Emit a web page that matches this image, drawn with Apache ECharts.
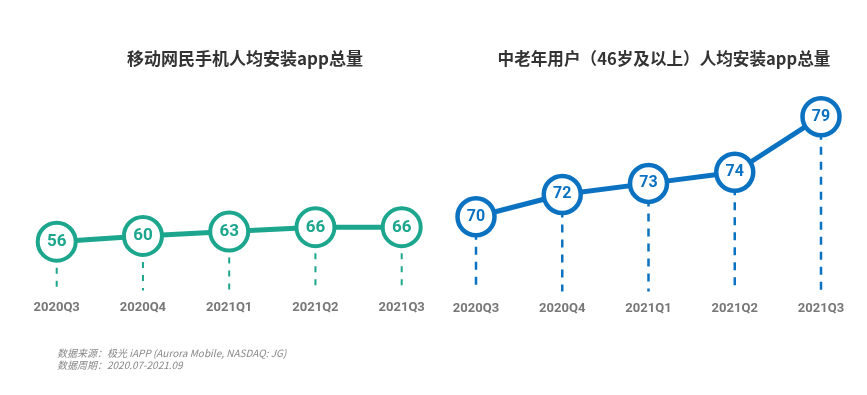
<!DOCTYPE html>
<html>
<head>
<meta charset="utf-8">
<script src="https://cdn.jsdelivr.net/npm/echarts@6/dist/echarts.min.js"></script>
<style>
html,body{margin:0;padding:0;background:#fff;}
#chart{width:867px;height:395px;}
</style>
</head>
<body>
<div id="chart"></div>
<script>
const categories = ['2020Q3', '2020Q4', '2021Q1', '2021Q2', '2021Q3'];
const allUsersValues = [56, 60, 63, 66, 66];
const seniorUsersValues = [70, 72, 73, 74, 79];
const leftTitle = '移动网民手机人均安装app总量';
const rightTitle = '中老年用户（46岁及以上）人均安装app总量';
const sourceLines = ['数据来源：极光 iAPP (Aurora Mobile, NASDAQ: JG)', '数据周期：2020.07-2021.09'];

const TEAL = '#1ba68d';
const BLUE = '#0a72c1';

function dashSeries(xi, yi, data, color, width, dash) {
  return {
    type: 'custom',
    xAxisIndex: xi, yAxisIndex: yi, z: 1, silent: true,
    data: data.map((v, i) => [i, v]),
    renderItem: function (params, api) {
      const p = api.coord([api.value(0), api.value(1)]);
      const bottom = params.coordSys.y + params.coordSys.height - 3;
      return {
        type: 'line',
        shape: { x1: p[0], y1: p[1], x2: p[0], y2: bottom },
        style: { stroke: color, lineWidth: width, lineDash: dash }
      };
    }
  };
}

function lineSeries(xi, yi, data, color, size, border, fontSize) {
  return {
    type: 'line', xAxisIndex: xi, yAxisIndex: yi, z: 3,
    data: data,
    symbol: 'circle', symbolSize: size,
    lineStyle: { color: color, width: 5 },
    itemStyle: { color: '#fff', borderColor: color, borderWidth: border },
    label: {
      show: true, position: 'inside', color: color,
      fontFamily: 'Roboto', fontWeight: 'bold', fontSize: fontSize
    },
    emphasis: { disabled: true },
    animation: false
  };
}

const axisLabel = { color: '#777', fontFamily: 'Roboto', fontWeight: 'bold', fontSize: 13, margin: 8 };

const chart = echarts.init(document.getElementById('chart'));
chart.setOption({
  backgroundColor: '#fff',
  animation: false,
  title: [
    { text: leftTitle, left: 240, top: 45, textAlign: 'center',
      textStyle: { fontFamily: 'Noto Sans CJK SC', fontWeight: 'bold', fontSize: 17, color: '#333' } },
    { text: rightTitle, left: 659, top: 45, textAlign: 'center',
      textStyle: { fontFamily: 'Noto Sans CJK SC', fontWeight: 'bold', fontSize: 16.6, color: '#333' } },
    { text: sourceLines.join('\n'), left: 52, top: 342,
      textStyle: { fontFamily: 'Noto Sans CJK SC', fontStyle: 'italic', fontWeight: 'normal', fontSize: 10, color: '#888', lineHeight: 12 } }
  ],
  grid: [
    { left: 56.7, right: 867 - 401.7, top: 207.1, height: 86.4 },
    { left: 476, right: 867 - 821, top: 105.6, height: 188.9 }
  ],
  xAxis: [
    { type: 'category', gridIndex: 0, data: categories, boundaryGap: false,
      axisLine: { show: false }, axisTick: { show: false }, splitLine: { show: false }, axisLabel: axisLabel },
    { type: 'category', gridIndex: 1, data: categories, boundaryGap: false,
      axisLine: { show: false }, axisTick: { show: false }, splitLine: { show: false }, axisLabel: axisLabel }
  ],
  yAxis: [
    { type: 'value', gridIndex: 0, min: 20, max: 80, show: false, splitLine: { show: false } },
    { type: 'value', gridIndex: 1, min: 63, max: 80, show: false, splitLine: { show: false } }
  ],
  series: [
    dashSeries(0, 0, allUsersValues, TEAL, 2, [6, 7]),
    dashSeries(1, 1, seniorUsersValues, BLUE, 2.5, [8, 7]),
    lineSeries(0, 0, allUsersValues, TEAL, 38, 4, 17),
    lineSeries(1, 1, seniorUsersValues, BLUE, 37, 4.5, 16)
  ]
});
</script>
</body>
</html>
